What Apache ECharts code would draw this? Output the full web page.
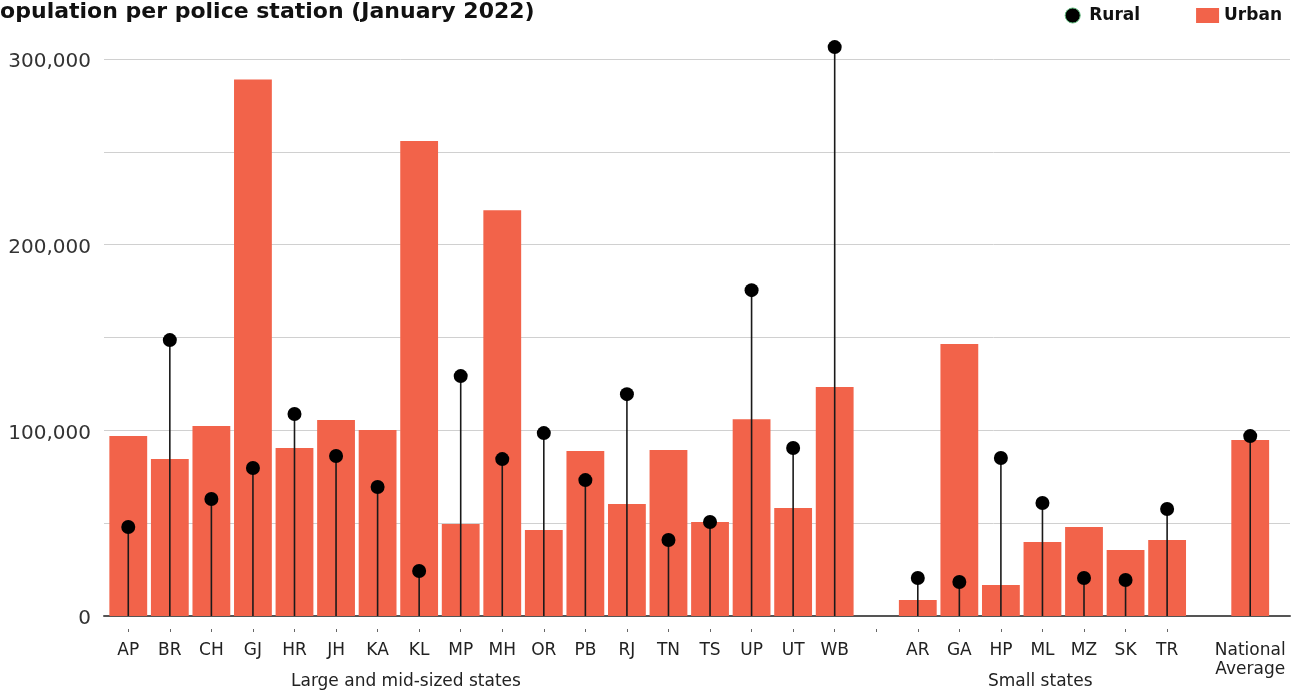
<!DOCTYPE html>
<html>
<head>
<meta charset="utf-8">
<script src="https://cdn.jsdelivr.net/npm/echarts@6/dist/echarts.min.js"></script>
<style>
  html, body { margin: 0; padding: 0; background: #fff; }
  #chart { width: 1301px; height: 694px; }
</style>
</head>
<body>
<div id="chart"></div>
<script>
// State codes, with blank slots separating the groups
const categories = ['AP','BR','CH','GJ','HR','JH','KA','KL','MP','MH','OR','PB','RJ','TN','TS','UP','UT','WB',
  ' ', 'AR','GA','HP','ML','MZ','SK','TR', '  ', 'National\nAverage'];

// Population per urban police station
const urban = [97000, 84500, 102300, 289000, 90500, 105500, 100200, 255800, 49500, 218600, 46300, 88900,
  60300, 89400, 50600, 106000, 58200, 123300, null, 8600, 146500, 16700, 39800, 47900, 35500, 40900, null, 94800];

// Population per rural police station
const rural = [47900, 148600, 63000, 79700, 108800, 86200, 69500, 24200, 129200, 84500, 98500, 73200,
  119500, 40900, 50600, 175500, 90500, 306400, null, 20500, 18300, 85100, 60900, 20500, 19400, 57600, null, 96900];

const yTicks = [0, 100000, 200000, 300000];
const groupLabels = ['Large and mid-sized states', 'Small states'];

const FONT = '"DejaVu Sans", "Noto Sans", sans-serif';
const ORANGE = '#F2634A';

const chart = echarts.init(document.getElementById('chart'), null, { renderer: 'canvas' });

const option = {
  animation: false,
  textStyle: { fontFamily: FONT },
  title: {
    text: 'Population per police station (January 2022)',
    left: -21, top: -4,
    textStyle: { fontFamily: FONT, fontSize: 22, fontWeight: 'bold', color: '#111' }
  },
  legend: {
    top: 2, right: 14,
    itemWidth: 23, itemHeight: 15, itemGap: 56,
    textStyle: { fontFamily: FONT, fontSize: 17, fontWeight: 'bold', color: '#111' },
    data: [
      { name: 'Rural', icon: 'circle', itemStyle: { color: '#000', borderColor: '#5cb87a', borderWidth: 1 } },
      { name: 'Urban', icon: 'rect', itemStyle: { color: ORANGE } }
    ]
  },
  grid: [
    { left: 107.5, right: 30, top: 59, bottom: 78 },
    { left: 104, right: 11, top: 59, bottom: 78 }
  ],
  xAxis: [
    {
      type: 'category', gridIndex: 0, data: categories,
      axisLine: { show: false }, axisTick: { show: false },
      axisLabel: { fontFamily: FONT, fontSize: 17, color: '#222', margin: 25, interval: 0, lineHeight: 19 }
    },
    {
      type: 'category', gridIndex: 0, data: categories, position: 'bottom', offset: 13,
      axisLine: { show: false },
      axisTick: { show: true, alignWithLabel: true, length: 3, interval: (i) => i < 26,
        lineStyle: { color: '#666', width: 1 } },
      axisLabel: { show: false }
    },
    {
      type: 'value', gridIndex: 1, min: 0, max: 1, show: true,
      axisLine: { show: true, onZero: false, lineStyle: { color: '#555', width: 2 } },
      axisTick: { show: false }, axisLabel: { show: false }, splitLine: { show: false }
    }
  ],
  yAxis: [
    {
      type: 'value', gridIndex: 0, min: 0, max: 300000, interval: 50000, show: false
    },
    {
      type: 'value', gridIndex: 1, min: 0, max: 300000, interval: 50000,
      axisLine: { show: false }, axisTick: { show: false },
      axisLabel: {
        fontFamily: FONT, fontSize: 20, color: '#333', margin: 13,
        verticalAlign: 'top', lineHeight: 6,
        formatter: (v) => yTicks.includes(v) ? v.toLocaleString('en-US') : ''
      },
      splitLine: { lineStyle: { color: '#d0d0d0', width: 1 } }
    }
  ],
  series: [
    {
      name: 'Urban', type: 'bar', xAxisIndex: 0, yAxisIndex: 0, z: 2,
      data: urban, barCategoryGap: '9%',
      itemStyle: { color: ORANGE }
    },
    {
      name: 'Rural stem', type: 'custom', xAxisIndex: 0, yAxisIndex: 0, clip: false, z: 5,
      data: rural.map((v, i) => [i, v]),
      renderItem: (params, api) => {
        const v = api.value(1);
        if (v == null || isNaN(v)) return null;
        const top = api.coord([api.value(0), v]);
        const base = api.coord([api.value(0), 0]);
        return {
          type: 'line',
          shape: { x1: top[0], y1: top[1], x2: base[0], y2: base[1] },
          style: { stroke: '#1a1a1a', lineWidth: 1.6 }
        };
      },
      silent: true
    },
    {
      name: 'Rural', type: 'scatter', xAxisIndex: 0, yAxisIndex: 0, clip: false, z: 6,
      data: rural, symbol: 'circle', symbolSize: 14,
      itemStyle: { color: '#000', opacity: 1 }
    }
  ],
  graphic: [
    { type: 'text', left: 291, top: 673,
      style: { text: groupLabels[0], fontFamily: FONT, fontSize: 17, fill: '#222' } },
    { type: 'text', left: 988, top: 673,
      style: { text: groupLabels[1], fontFamily: FONT, fontSize: 17, fill: '#222' } }
  ]
};

chart.setOption(option);
</script>
</body>
</html>
